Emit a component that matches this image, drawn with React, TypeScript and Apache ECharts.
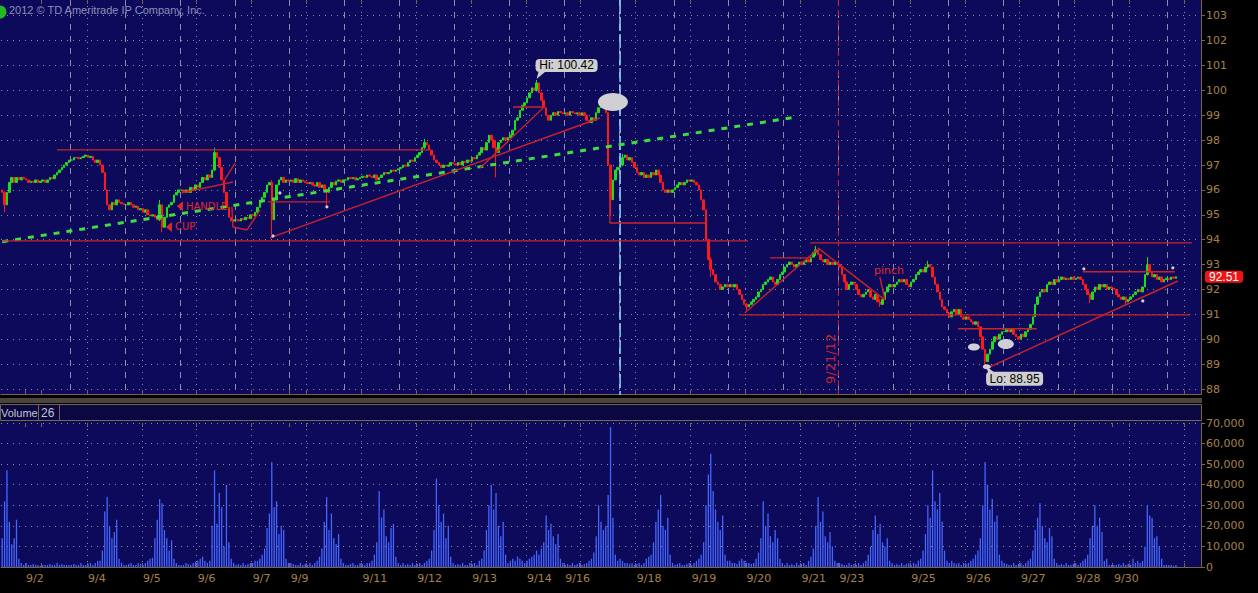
import React, { useEffect, useRef } from "react";
import * as echarts from "echarts";

// ---------- hourly closes per trading session (crude oil, Sep 2012) ----------
const c0831 = [95.9, 95.4, 95.9, 96.3, 96.5, 96.3, 96.5, 96.4, 96.5, 96.45];
const c0902 = [96.4, 96.3, 96.35, 96.3, 96.4, 96.3, 96.35, 96.4, 96.3, 96.4, 96.5, 96.45, 96.6, 96.7, 96.8, 96.9, 97.0, 97.1, 97.2];
const c0904 = [97.2, 97.3, 97.3, 97.25, 97.3, 97.35, 97.4, 97.3, 97.35, 97.2, 97.1, 97.2, 97.0, 96.7, 96.0, 95.4, 95.2, 95.5, 95.4, 95.6, 95.5, 95.45, 95.4];
const c0905 = [95.4, 95.5, 95.4, 95.3, 95.35, 95.2, 95.25, 95.1, 95.2, 95.0, 94.95, 95.0, 94.9, 94.8, 95.4, 94.5, 94.9, 95.3, 95.4, 95.5, 95.8, 95.9, 96.0];
const c0906 = [96.0, 95.9, 96.0, 95.9, 96.1, 96.0, 96.2, 96.1, 96.3, 96.5, 96.4, 96.6, 96.5, 96.8, 97.5, 97.3, 96.9, 96.4, 95.9, 95.3, 94.9, 94.75, 94.8];
const c0907 = [94.8, 94.75, 94.85, 94.8, 94.9, 94.85, 95.0, 94.95, 95.1, 95.3, 95.5, 95.7, 95.9, 96.2, 96.3, 94.8, 95.6, 96.2, 96.4, 96.5, 96.3, 96.4, 96.35];
const c0910 = [96.4, 96.3, 96.45, 96.3, 96.4, 96.35, 96.3, 96.25, 96.3, 96.2, 96.15, 96.3, 96.1, 96.2, 96.0, 95.9, 96.1, 96.3, 96.2, 96.35, 96.4, 96.3, 96.4];
const c0911 = [96.4, 96.5, 96.45, 96.5, 96.4, 96.45, 96.5, 96.55, 96.5, 96.6, 96.55, 96.5, 96.6, 96.4, 96.5, 96.6, 96.7, 96.65, 96.7, 96.8, 96.75, 96.8, 96.85];
const c0912 = [96.9, 97.0, 96.95, 97.1, 97.2, 97.15, 97.3, 97.4, 97.5, 97.7, 97.9, 97.8, 97.6, 97.4, 97.2, 97.1, 97.0, 96.9, 97.0, 96.95, 97.0, 97.1, 97.05];
const c0913 = [97.0, 97.1, 97.0, 97.15, 97.1, 97.2, 97.15, 97.3, 97.25, 97.4, 97.5, 97.7, 97.6, 97.9, 98.2, 98.0, 97.7, 97.5, 97.9, 98.0, 98.1, 98.0, 98.1];
const c0914 = [98.2, 98.4, 98.8, 98.9, 99.2, 99.4, 99.5, 99.7, 99.9, 100.1, 100.0, 100.3, 99.9, 99.6, 99.3, 99.0, 98.8, 99.0, 99.1, 99.0, 99.15, 99.1, 99.05];
const c0917 = [99.1, 99.0, 99.15, 99.1, 99.05, 99.1, 99.0, 99.1, 99.0, 98.8, 98.7, 98.9, 98.8, 99.1, 99.3, 99.45, 99.3, 99.1, 97.0, 95.6, 96.4, 96.8, 96.9];
const c0918 = [97.0, 97.3, 97.4, 97.2, 97.3, 97.1, 96.9, 96.7, 96.6, 96.7, 96.5, 96.6, 96.5, 96.7, 96.6, 96.8, 96.6, 96.3, 96.0, 95.9, 96.0, 95.9, 96.0];
const c0919 = [96.1, 96.2, 96.3, 96.2, 96.3, 96.4, 96.35, 96.4, 96.3, 96.2, 96.0, 95.6, 95.2, 94.0, 93.2, 92.8, 92.6, 92.3, 92.2, 92.0, 92.1, 92.2, 92.1];
const c0920 = [92.2, 92.1, 92.2, 92.0, 91.8, 91.6, 91.4, 91.3, 91.4, 91.5, 91.6, 91.7, 91.9, 92.0, 92.2, 92.3, 92.4, 92.5, 92.3, 92.2, 92.4, 92.6, 92.7];
const c0921 = [92.9, 93.0, 93.1, 93.0, 92.9, 93.0, 93.1, 93.0, 93.1, 93.2, 93.1, 93.3, 93.5, 93.6, 93.4, 93.2, 93.1, 93.2, 93.0, 93.1, 93.0, 93.1, 93.0];
const c0924 = [92.9, 92.6, 92.3, 92.0, 92.2, 92.3, 92.2, 92.0, 91.8, 91.7, 91.8, 91.9, 92.0, 91.7, 91.6, 91.8, 91.5, 91.4, 91.6, 91.9, 92.1, 92.2, 92.1];
const c0925 = [92.2, 92.3, 92.4, 92.3, 92.4, 92.2, 92.1, 92.3, 92.4, 92.6, 92.7, 92.8, 92.7, 92.9, 93.0, 92.9, 92.5, 92.2, 91.9, 91.6, 91.3, 91.2, 91.05];
const c0926 = [90.9, 91.1, 91.2, 91.0, 91.2, 90.9, 90.8, 90.9, 90.8, 90.7, 90.6, 90.7, 90.5, 90.1, 89.6, 89.1, 89.4, 89.6, 89.9, 90.1, 90.0, 90.2, 90.3];
const c0927 = [90.3, 90.4, 90.3, 90.4, 90.2, 90.1, 90.0, 90.2, 90.1, 90.3, 90.4, 90.6, 90.9, 91.4, 91.7, 91.9, 92.0, 91.9, 92.2, 92.3, 92.2, 92.4, 92.3];
const c0928 = [92.4, 92.5, 92.4, 92.45, 92.4, 92.5, 92.4, 92.45, 92.5, 92.4, 92.2, 92.0, 91.8, 91.6, 91.9, 92.1, 92.0, 92.2, 92.1, 92.2, 92.0, 92.1, 92.05];
const c1001 = [92.0, 91.8, 91.7, 91.6, 91.7, 91.5, 91.6, 91.7, 91.8, 91.9, 92.0, 91.9, 92.1, 92.6, 93.0, 92.7, 92.5, 92.6, 92.4, 92.5, 92.3, 92.4, 92.45];
const c1002 = [92.4, 92.5, 92.45, 92.51];

// ---------- hourly volume per session (thousands of contracts) ----------
const v0831 = [14, 32, 47, 22, 11, 14, 23, 4, 2, 1];
const v0902 = [2, 1, 1, 1.5, 1, 1, 0.5, 1, 1, 1, 1.5, 1, 1, 2, 1, 1.5, 1, 1, 1];
const v0904 = [1, 1.5, 1, 1, 2, 1, 1, 1.5, 2, 1, 2, 3, 3, 8, 27, 34, 20, 14, 17, 23, 4, 2, 1];
const v0905 = [1, 1.5, 2, 1, 1, 2, 1.5, 1, 2, 3, 4, 4.5, 14, 23, 33, 31, 18, 14, 8, 13, 4, 2, 1];
const v0906 = [1, 1, 2, 1.5, 1, 2, 2.5, 3, 4, 5, 3, 2, 3, 20, 47, 21, 36, 29, 10, 40, 12, 4, 2];
const v0907 = [1, 1.5, 1, 2, 1, 1.5, 2, 2, 3, 3, 4, 6, 9, 19, 26, 51, 29, 32, 16, 20, 18, 4, 2];
const v0910 = [2, 1.5, 1, 1, 2, 1, 1.5, 1, 2, 1, 2, 3, 5, 9, 22, 34, 18, 26, 14, 11, 16, 4, 2];
const v0911 = [1, 1, 1.5, 2, 1, 1, 2, 1.5, 1, 2, 2, 3, 6, 12, 37, 24, 28, 15, 12, 19, 21, 5, 2];
const v0912 = [1, 2, 1, 1.5, 1, 2, 1, 1.5, 2, 1, 2, 3, 4, 8, 18, 43, 30, 22, 26, 14, 20, 5, 2];
const v0913 = [1, 1.5, 1, 2, 1, 1, 2, 1.5, 2, 1, 3, 4, 8, 18, 30, 40, 28, 36, 20, 15, 22, 6, 2];
const v0914 = [3, 4, 3, 5, 4, 3, 2, 3, 4, 5, 6, 8, 6, 9, 12, 25, 18, 21, 15, 11, 16, 4, 2];
const v0917 = [1, 1.5, 1, 2, 1, 1.5, 2, 1, 1.5, 2, 3, 4, 7, 15, 30, 22, 18, 20, 35, 68, 24, 6, 3];
const v0918 = [4, 3, 2, 2, 1.5, 2, 1, 1.5, 2, 1, 2, 4, 5, 6, 12, 22, 28, 35, 20, 18, 24, 6, 2];
const v0919 = [1, 1.5, 2, 1, 1, 1.5, 2, 1, 2, 3, 4, 6, 12, 30, 45, 55, 37, 28, 22, 18, 25, 6, 3];
const v0920 = [3, 2, 2, 1.5, 3, 4, 3, 2, 2, 1.5, 2, 4, 7, 14, 32, 20, 26, 15, 12, 18, 14, 4, 2];
const v0921 = [1, 2, 1, 1.5, 1, 2, 1, 1.5, 2, 1, 3, 5, 9, 20, 34, 22, 27, 15, 12, 17, 10, 3, 2];
const v0924 = [2, 1.5, 1, 1, 2, 1, 1.5, 1, 2, 1, 2, 3, 6, 10, 18, 25, 16, 21, 12, 10, 14, 3, 2];
const v0925 = [1, 1.5, 1, 2, 1, 1.5, 2, 1, 2, 1.5, 3, 4, 8, 16, 30, 24, 47, 32, 28, 36, 22, 8, 3];
const v0926 = [2, 3, 2, 1.5, 2, 1, 2, 1.5, 2, 3, 4, 6, 8, 14, 30, 51, 40, 28, 33, 22, 25, 6, 3];
const v0927 = [2, 1.5, 1, 1, 2, 1, 1.5, 2, 1, 2, 3, 4, 8, 18, 24, 31, 20, 14, 12, 19, 15, 4, 2];
const v0928 = [1, 1.5, 1, 2, 1, 1, 1.5, 2, 1, 2, 3, 4, 6, 14, 20, 30, 20, 24, 17, 3, 4, 1, 1];
const v1001 = [1, 1, 1.5, 1, 2, 1, 1.5, 1, 4, 2, 3, 2, 3, 10, 30, 25, 24, 14, 15, 10, 4, 1, 1];
const v1002 = [1, 1, 0.5, 1];

type Session = { closes: number[]; vols: number[]; sun?: string; day?: string; partial?: boolean };
const sessions: Session[] = [
  { closes: c0831, vols: v0831, partial: true },
  { closes: c0902, vols: v0902, sun: "9/2" },
  { closes: c0904, vols: v0904, day: "9/4" },
  { closes: c0905, vols: v0905, day: "9/5" },
  { closes: c0906, vols: v0906, day: "9/6" },
  { closes: c0907, vols: v0907, day: "9/7" },
  { closes: c0910, vols: v0910, sun: "9/9" },
  { closes: c0911, vols: v0911, day: "9/11" },
  { closes: c0912, vols: v0912, day: "9/12" },
  { closes: c0913, vols: v0913, day: "9/13" },
  { closes: c0914, vols: v0914, day: "9/14" },
  { closes: c0917, vols: v0917, sun: "9/16" },
  { closes: c0918, vols: v0918, day: "9/18" },
  { closes: c0919, vols: v0919, day: "9/19" },
  { closes: c0920, vols: v0920, day: "9/20" },
  { closes: c0921, vols: v0921, day: "9/21" },
  { closes: c0924, vols: v0924, sun: "9/23" },
  { closes: c0925, vols: v0925, day: "9/25" },
  { closes: c0926, vols: v0926, day: "9/26" },
  { closes: c0927, vols: v0927, day: "9/27" },
  { closes: c0928, vols: v0928, day: "9/28" },
  { closes: c1001, vols: v1001, sun: "9/30" },
  { closes: c1002, vols: v1002 },
];

const FIRST_OPEN = 96.0;
const MIDNIGHT_OFFSET = 7; // bars from session open to midnight
const SLOT_COUNT = 503; // hourly slots shown on the time axis

// [bar index, low, high] for bars with visible wicks
const wicks: Array<[number, number, number]> = [
  [1, 95.1, 95.95], [66, 94.75, 95.6], [67, 94.3, 95.4], [89, 96.75, 97.7], [113, 94.2, 96.4],
  [136, 95.35, 96.05], [177, 97.65, 98.05], [207, 96.5, 98.0], [224, 99.95, 100.42], [255, 94.95, 97.0],
  [260, 96.95, 97.45], [297, 92.5, 93.3], [312, 91.15, 91.45], [341, 93.35, 93.75], [368, 91.3, 91.6],
  [388, 92.85, 93.15], [412, 88.95, 89.6], [456, 91.45, 91.85], [471, 91.35, 91.65], [480, 92.55, 93.3],
];

const priceMin = 88;
const priceMax = 103;
const volMax = 70000;

// hand-drawn study lines: [index1, price1, index2, price2, kind]
const drawings: Array<[number, number, number, number, string]> = [
  [0, 93.92, 333.1, 98.93, "g"],
  [23.0, 97.61, 179.3, 97.61, "r"],
  [0, 93.95, 312.6, 93.95, "r"],
  [338.6, 93.87, 498.7, 93.87, "r"],
  [309.2, 90.98, 497.8, 90.98, "r"],
  [254.7, 97.0, 254.7, 94.67, "r"],
  [254.7, 94.67, 295.4, 94.67, "r"],
  [214.1, 99.33, 227.5, 99.33, "r"],
  [400.6, 90.42, 433.7, 90.42, "r"],
  [453, 92.71, 491.5, 92.71, "r"],
  [321.8, 93.27, 339.4, 93.27, "r"],
  [311.3, 91.06, 341.5, 93.59, "r"],
  [341.9, 93.67, 370, 91.58, "r"],
  [367.9, 92.5, 370, 91.58, "r"],
  [414, 88.89, 492.8, 92.34, "r"],
  [112.2, 94.07, 250.5, 98.89, "r"],
  [200.3, 96.88, 226.7, 99.29, "r"],
  [111.4, 95.52, 137.4, 95.52, "r"],
  [75.2, 95.88, 96.7, 96.32, "r"],
  [92.5, 96.28, 97.6, 97.08, "r"],
  [96.3, 95.32, 96.7, 94.51, "r"],
  [96.7, 94.51, 102.6, 94.39, "r"],
  [102.6, 94.39, 108.1, 95.2, "r"],
];

const notes = [
  { text: "HANDLE", i: 77.0, p: 95.34, size: 10, arrow: true },
  { text: "CUP", i: 72.4, p: 94.51, size: 10, arrow: true },
  { text: "pinch", i: 365.4, p: 92.75, size: 11, arrow: false },
];
const dateNote = { text: "9/21/12", i: 347.4, p: 89.21 };
// [index, price, rx, ry]
const blobs: Array<[number, number, number, number]> = [
  [256.0, 99.53, 15, 9], [407.3, 89.69, 6, 3.5], [420.7, 89.81, 8, 5], [412.7, 88.89, 4, 2.5],
  [453.4, 92.83, 1.6, 1.6], [490.7, 92.87, 1.6, 1.6], [478.1, 91.54, 1.6, 1.6],
  [136.1, 95.32, 1.6, 1.6], [113.5, 94.15, 1.6, 1.6], [116.4, 95.88, 1.6, 1.6],
];
const cursorIdx = 259;
const dateLineIdx = 350.5;

const NAVY = "#0d0a5c";
const DOT = "#8a8aa8";
const DASH = "#8e8eaa";
const TAN = "#a5804f";
const AXIS = "#7c6446";
const UP = "#1fdc1f";
const DOWN = "#ff1a1a";
const VOL = "#4466ff";
const DRAW_RED = "#cc2229";

export default function App() {
  const ref = useRef<HTMLDivElement>(null);
  useEffect(() => {
    if (!ref.current) return;
    const chart = echarts.init(ref.current, null, { renderer: "svg" });

    const closes: number[] = [];
    const vols: number[] = [];
    const sessionStarts = new Set<number>();
    const midnights = new Set<number>();
    const tickAt = new Set<number>();
    const labelAt = new Map<number, string>();
    let cursor = 0;
    for (const s of sessions) {
      if (!s.partial) {
        sessionStarts.add(cursor);
        midnights.add(cursor + MIDNIGHT_OFFSET);
        tickAt.add(cursor + MIDNIGHT_OFFSET);
        if (s.sun) {
          tickAt.add(cursor);
          labelAt.set(cursor, s.sun);
        }
        if (s.day) labelAt.set(cursor + MIDNIGHT_OFFSET, s.day);
      }
      closes.push(...s.closes);
      vols.push(...s.vols.map((v) => v * 1000));
      cursor += s.closes.length;
    }
    const wickMap = new Map(wicks.map((w) => [w[0], w] as [number, [number, number, number]]));
    const candles = closes.map((c, i) => {
      const o = i === 0 ? FIRST_OPEN : closes[i - 1];
      let lo = Math.min(o, c);
      let hi = Math.max(o, c);
      const w = wickMap.get(i);
      if (w) {
        lo = Math.min(lo, w[1]);
        hi = Math.max(hi, w[2]);
      }
      return [o, c, lo, hi];
    });
    const cats = Array.from({ length: SLOT_COUNT }, (_, i) => labelAt.get(i) ?? `#${i}`);

    const font = { fontFamily: "DejaVu Sans", fontSize: 11, color: TAN };
    const base = { type: "category", data: cats, boundaryGap: true };
    const option: any = {
      animation: false,
      backgroundColor: "#000000",
      grid: [
        { left: 1, right: 57, top: 15.7, height: 373.3 },
        { left: 1, right: 57, top: 423, height: 144 },
        { left: 1, right: 57, top: 0, height: 394 },
      ],
      xAxis: [
        { ...base, gridIndex: 0, show: false },
        {
          ...base, gridIndex: 1, position: "bottom",
          axisLine: { show: true, lineStyle: { color: AXIS } },
          axisTick: { show: true, inside: true, length: 4, interval: (i: number) => tickAt.has(i), lineStyle: { color: AXIS } },
          axisLabel: {
            show: true, interval: (i: number) => labelAt.has(i),
            formatter: (v: string) => (v.startsWith("#") ? "" : v), align: "left", margin: 6, ...font,
          },
          splitLine: { show: true, interval: (i: number) => midnights.has(i), showMinLine: false, showMaxLine: false, lineStyle: { color: DOT, type: [1, 5] } },
        },
        {
          ...base, gridIndex: 1, position: "top",
          axisLine: { show: false },
          axisTick: { show: true, inside: true, length: 4, interval: (i: number) => tickAt.has(i), lineStyle: { color: AXIS } },
          axisLabel: { show: false }, splitLine: { show: false },
        },
        {
          ...base, gridIndex: 2, position: "bottom",
          axisLine: { show: true, lineStyle: { color: AXIS } },
          axisTick: { show: true, inside: true, length: 4, interval: (i: number) => tickAt.has(i), lineStyle: { color: AXIS } },
          axisLabel: { show: false },
          splitLine: { show: true, interval: (i: number) => sessionStarts.has(i), showMinLine: false, showMaxLine: false, lineStyle: { color: DASH, type: [6, 6] } },
        },
        {
          ...base, gridIndex: 2, position: "top",
          axisLine: { show: false },
          axisTick: { show: true, inside: true, length: 4, interval: (i: number) => midnights.has(i), lineStyle: { color: AXIS } },
          axisLabel: { show: false },
          splitLine: { show: true, interval: (i: number) => midnights.has(i), showMinLine: false, showMaxLine: false, lineStyle: { color: DOT, type: [1, 5] } },
        },
      ],
      yAxis: [
        {
          type: "value", gridIndex: 0, position: "right", min: priceMin, max: priceMax, interval: 1,
          axisLine: { show: false },
          axisTick: { show: true, length: 4, lineStyle: { color: AXIS } },
          axisLabel: { ...font, margin: 5 },
          splitLine: { show: true, lineStyle: { color: DOT, type: [1, 5] } },
        },
        {
          type: "value", gridIndex: 1, position: "right", min: 0, max: volMax, interval: 10000,
          axisLine: { show: true, lineStyle: { color: AXIS } },
          axisTick: { show: true, length: 4, lineStyle: { color: AXIS } },
          axisLabel: { ...font, margin: 5, formatter: (v: number) => v.toLocaleString("en-US") },
          splitLine: { show: true, lineStyle: { color: DOT, type: [1, 5] } },
        },
        {
          type: "value", gridIndex: 2, position: "right", min: 0, max: 1,
          axisLine: { show: true, lineStyle: { color: AXIS } },
          axisTick: { show: false }, axisLabel: { show: false }, splitLine: { show: false },
        },
      ],
      series: [
        {
          type: "candlestick", xAxisIndex: 0, yAxisIndex: 0, data: candles, barWidth: 2,
          itemStyle: { color: UP, color0: DOWN, borderColor: UP, borderColor0: DOWN, borderWidth: 1 },
        },
        {
          type: "bar", xAxisIndex: 1, yAxisIndex: 1, data: vols, barWidth: 1.3,
          itemStyle: { color: VOL },
        },
      ],
    };
    chart.setOption(option);

    const toPx = (i: number, p: number): [number, number] => {
      const i0 = Math.max(0, Math.min(SLOT_COUNT - 2, Math.floor(i)));
      const a = chart.convertToPixel({ xAxisIndex: 0, yAxisIndex: 0 }, [i0, p]) as number[];
      const b = chart.convertToPixel({ xAxisIndex: 0, yAxisIndex: 0 }, [i0 + 1, p]) as number[];
      return [a[0] + (i - i0) * (b[0] - a[0]), a[1]];
    };

    let hiIdx = 0;
    let loIdx = 0;
    candles.forEach((c, i) => {
      if (c[3] > candles[hiIdx][3]) hiIdx = i;
      if (c[2] < candles[loIdx][2]) loIdx = i;
    });
    const hiVal = candles[hiIdx][3];
    const loVal = candles[loIdx][2];
    const last = closes[closes.length - 1];

    const g: any[] = [];
    // panels
    g.push({ type: "rect", shape: { x: 0, y: 0, width: 1202, height: 395 }, style: { fill: NAVY }, z: -10, silent: true });
    g.push({ type: "rect", shape: { x: 0, y: 398, width: 1202, height: 5 }, style: { fill: "#4a463e" }, z: -10, silent: true });
    g.push({ type: "rect", shape: { x: 0.5, y: 404.5, width: 1201, height: 16 }, style: { fill: "#0a0842", stroke: AXIS, lineWidth: 1 }, z: -10, silent: true });
    g.push({ type: "rect", shape: { x: 0, y: 421, width: 1202, height: 146 }, style: { fill: NAVY }, z: -10, silent: true });
    g.push({ type: "line", shape: { x1: 38.5, y1: 404, x2: 38.5, y2: 421 }, style: { stroke: AXIS, lineWidth: 1 }, z: 5 });
    g.push({ type: "line", shape: { x1: 59.5, y1: 404, x2: 59.5, y2: 421 }, style: { stroke: AXIS, lineWidth: 1 }, z: 5 });
    g.push({ type: "text", x: 1, y: 412.5, style: { text: "Volume", fill: "#c4c4cc", font: '11px "Liberation Sans"', textVerticalAlign: "middle" }, z: 5 });
    g.push({ type: "text", x: 41, y: 412.5, style: { text: "26", fill: "#c4c4cc", font: '12px "Liberation Sans"', textVerticalAlign: "middle" }, z: 5 });
    // header
    g.push({ type: "circle", shape: { cx: 0, cy: 12, r: 6.5 }, style: { fill: "#23b823" }, z: 30 });
    g.push({ type: "text", x: 9, y: 4, style: { text: "2012 © TD Ameritrade IP Company, Inc.", fill: "#8e8eb8", font: '11px "Liberation Sans"' }, z: 30 });

    // vertical markers
    const [cx] = toPx(cursorIdx, 95);
    g.push({ type: "line", shape: { x1: cx, y1: 0, x2: cx, y2: 395 }, style: { stroke: "#86d6ff", lineWidth: 1.5, lineDash: [14, 3] }, z: 15 });
    const [dx] = toPx(dateLineIdx, 95);
    g.push({ type: "line", shape: { x1: dx, y1: 0, x2: dx, y2: 395 }, style: { stroke: "#c02626", lineWidth: 1, lineDash: [6, 4] }, z: 15 });

    // study lines
    for (const [i1, p1, i2, p2, kind] of drawings) {
      const a = toPx(i1, p1);
      const b = toPx(i2, p2);
      g.push({
        type: "line", shape: { x1: a[0], y1: a[1], x2: b[0], y2: b[1] },
        style: kind === "g" ? { stroke: "#3ede3e", lineWidth: 3, lineDash: [6, 7] } : { stroke: DRAW_RED, lineWidth: 1.4 },
        z: 16,
      });
    }

    // notes
    for (const n of notes) {
      const [x, y] = toPx(n.i, n.p);
      g.push({ type: "text", x, y, style: { text: n.text, fill: "#e0282c", font: `${n.size}px "DejaVu Sans"`, textVerticalAlign: "middle" }, z: 20 });
      if (n.arrow) {
        g.push({ type: "polygon", shape: { points: [[x - 9, y], [x - 3, y - 5], [x - 3, y + 5]] }, style: { fill: "#e0282c" }, z: 20 });
      }
    }
    {
      const [x, y] = toPx(dateNote.i, dateNote.p);
      g.push({ type: "text", x, y, rotation: Math.PI / 2, style: { text: dateNote.text, fill: "#c82828", font: '13px "DejaVu Sans"', textAlign: "center", textVerticalAlign: "middle" }, z: 20 });
    }
    for (const [i, p, rx, ry] of blobs) {
      const [x, y] = toPx(i, p);
      g.push({ type: "ellipse", shape: { cx: x, cy: y, rx, ry }, style: { fill: "#cfcfd4" }, z: 21 });
    }

    // Hi / Lo callouts
    {
      const [hx, hy] = toPx(hiIdx, hiVal);
      g.push({ type: "rect", shape: { x: hx - 1, y: hy - 21, width: 62, height: 13, r: 4 }, style: { fill: "#cfcfcf" }, z: 22 });
      g.push({ type: "polygon", shape: { points: [[hx + 2, hy - 8.5], [hx, hy - 1], [hx + 9, hy - 8.5]] }, style: { fill: "#cfcfcf" }, z: 22 });
      g.push({ type: "text", x: hx + 30, y: hy - 14.5, style: { text: `Hi: ${hiVal.toFixed(2)}`, fill: "#000", font: '12px "Liberation Sans"', textAlign: "center", textVerticalAlign: "middle" }, z: 23 });
      const [lx, ly] = toPx(loIdx, loVal);
      g.push({ type: "rect", shape: { x: lx + 1, y: ly + 6.5, width: 57, height: 14, r: 4 }, style: { fill: "#cfcfcf" }, z: 22 });
      g.push({ type: "polygon", shape: { points: [[lx + 3, ly + 7], [lx + 1, ly + 1], [lx + 9, ly + 7]] }, style: { fill: "#cfcfcf" }, z: 22 });
      g.push({ type: "text", x: lx + 29.5, y: ly + 13.5, style: { text: `Lo: ${loVal.toFixed(2)}`, fill: "#000", font: '12px "Liberation Sans"', textAlign: "center", textVerticalAlign: "middle" }, z: 23 });
    }
    // last price tag
    {
      const [, ly] = toPx(0, last);
      g.push({ type: "rect", shape: { x: 1205, y: ly - 6, width: 38, height: 12, r: 3 }, style: { fill: "#ee1414" }, z: 22 });
      g.push({ type: "text", x: 1224, y: ly, style: { text: last.toFixed(2), fill: "#ffffff", font: '12px "Liberation Sans"', textAlign: "center", textVerticalAlign: "middle" }, z: 23 });
    }

    chart.setOption({ graphic: g });
    return () => chart.dispose();
  }, []);
  return <div ref={ref} style={{ position: "fixed", left: 0, top: 0, width: 1258, height: 593, background: "#000" }} />;
}
